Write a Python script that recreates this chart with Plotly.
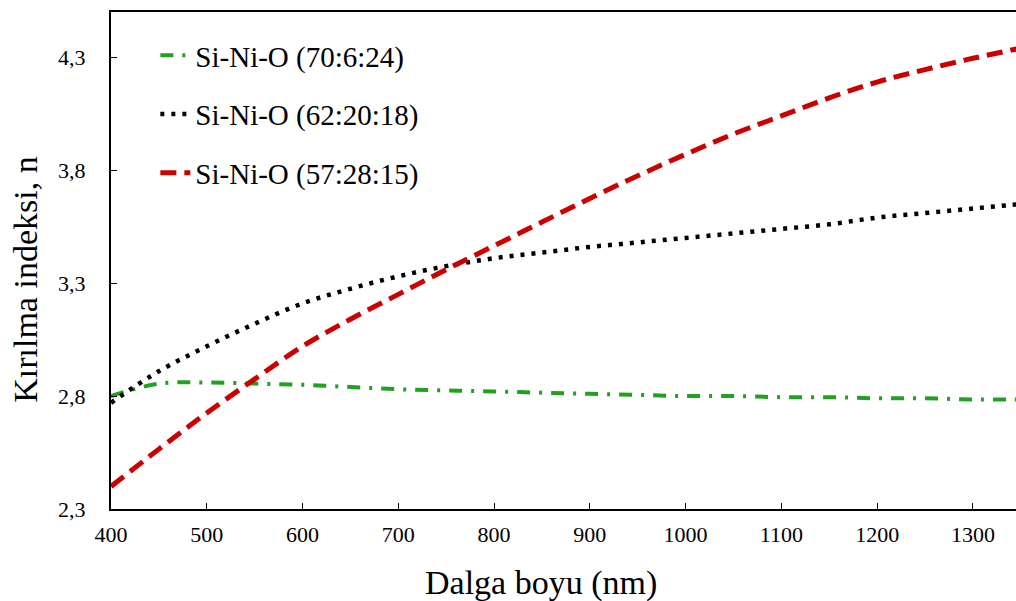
import plotly.graph_objects as go

wavelength = [400, 450, 500, 550, 600, 650, 700, 750, 800, 850, 900, 950,
              1000, 1050, 1100, 1150, 1200, 1250, 1300, 1350]

n_70_6_24 = [2.80, 2.855, 2.86, 2.855, 2.85, 2.84, 2.83, 2.825, 2.82, 2.815,
             2.81, 2.805, 2.80, 2.80, 2.795, 2.795, 2.79, 2.79, 2.785, 2.785]
n_62_20_18 = [2.77, 2.91, 3.02, 3.12, 3.21, 3.275, 3.33, 3.375, 3.41, 3.435,
              3.46, 3.48, 3.50, 3.52, 3.54, 3.56, 3.59, 3.61, 3.63, 3.65]
n_57_28_15 = [2.40, 2.565, 2.725, 2.875, 3.02, 3.14, 3.25, 3.36, 3.465, 3.57,
              3.675, 3.775, 3.87, 3.96, 4.04, 4.12, 4.19, 4.245, 4.295, 4.34]

labels = ["Si-Ni-O (70:6:24)", "Si-Ni-O (62:20:18)", "Si-Ni-O (57:28:15)"]

x_ticks = [400, 500, 600, 700, 800, 900, 1000, 1100, 1200, 1300]
y_ticks = [2.3, 2.8, 3.3, 3.8, 4.3]
y_ticktext = ["2,3", "2,8", "3,3", "3,8", "4,3"]

FONT = "Liberation Serif"

fig = go.Figure()
fig.add_trace(go.Scatter(x=wavelength, y=n_70_6_24, mode="lines", name=labels[0],
                         line=dict(color="#22a022", width=4, dash="13px,9px,3px,9px", shape="spline"),
                         legendgroup="a"))
fig.add_trace(go.Scatter(x=wavelength, y=n_62_20_18, mode="lines", name=labels[1],
                         line=dict(color="black", width=4.5, dash="4px,7px", shape="spline"),
                         legendgroup="b"))
fig.add_trace(go.Scatter(x=wavelength, y=n_57_28_15, mode="lines", name=labels[2],
                         line=dict(color="#cc0000", width=5, dash="16px,8px", shape="spline"),
                         legendgroup="c"))

fig.update_layout(
    width=1016, height=601,
    margin=dict(l=111, r=0, t=12, b=92),
    paper_bgcolor="white", plot_bgcolor="white",
    font=dict(family=FONT, size=22, color="black"),
    showlegend=True,
    legend=dict(x=0.049, y=0.964, xanchor="left", yanchor="top",
                font=dict(family=FONT, size=29, color="black"),
                tracegroupgap=18, bgcolor="rgba(0,0,0,0)"),
    xaxis=dict(range=[400, 1345], tickvals=x_ticks, ticks="inside", ticklen=6,
               tickcolor="black", showline=True, linecolor="black", linewidth=2,
               mirror=True, showgrid=False, zeroline=False,
               tickfont=dict(family=FONT, size=22, color="black"), ticklabelstandoff=5),
    yaxis=dict(range=[2.3, 4.5], tickvals=y_ticks, ticktext=y_ticktext, ticks="inside",
               ticklen=6, tickcolor="black", showline=True, linecolor="black", linewidth=2,
               showgrid=False, zeroline=False,
               tickfont=dict(family=FONT, size=22, color="black"), ticklabelstandoff=19),
    annotations=[
        dict(text="Dalga boyu (nm)", xref="paper", yref="paper", x=0.475, y=-0.149,
             xanchor="center", yanchor="middle", showarrow=False,
             font=dict(family=FONT, size=34, color="black")),
        dict(text="Kırılma indeksi, n", xref="paper", yref="paper", x=-0.094, y=0.461,
             xanchor="center", yanchor="middle", showarrow=False, textangle=-90,
             font=dict(family=FONT, size=34, color="black")),
    ],
)

fig.write_html(
    "out.html",
    config={"displayModeBar": False},
    post_script="document.body.style.margin='0';document.body.style.overflow='hidden';",
)
